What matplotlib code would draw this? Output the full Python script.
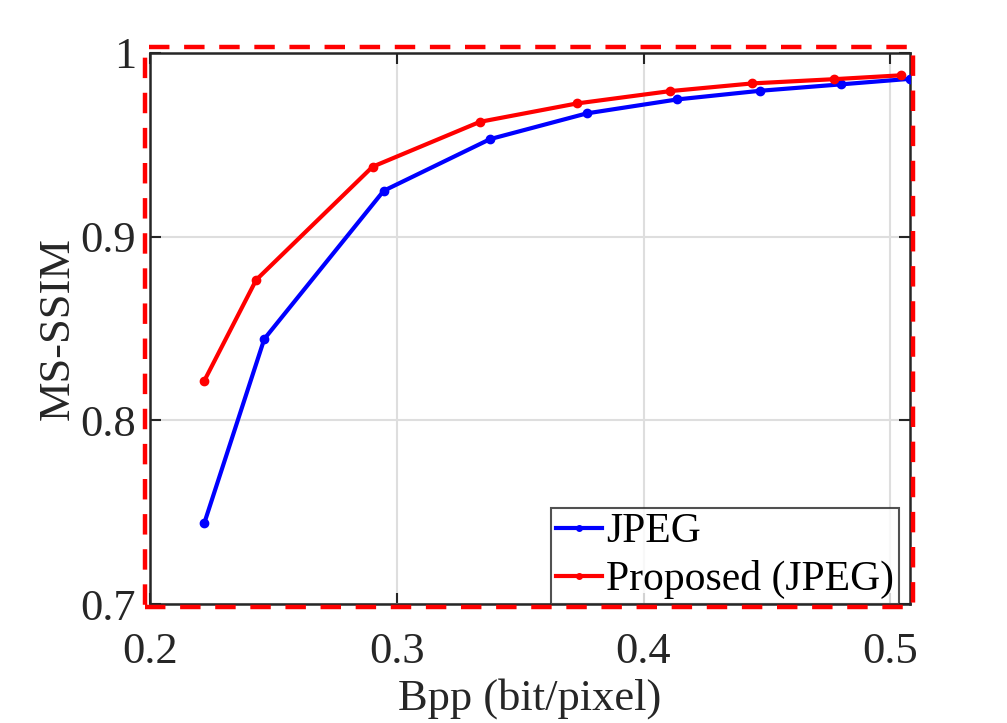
import numpy as np
import matplotlib.pyplot as plt
from matplotlib.patches import Rectangle

# values
bpp_jpeg = [0.222, 0.2463, 0.2947, 0.3378, 0.377, 0.4137, 0.4473, 0.4802, 0.508]
ssim_jpeg = [0.7442, 0.8443, 0.9249, 0.953, 0.967, 0.9746, 0.9793, 0.9828, 0.9858]
bpp_prop = [0.222, 0.243, 0.2902, 0.3337, 0.373, 0.4107, 0.4441, 0.4772, 0.5043]
ssim_prop = [0.8216, 0.8764, 0.938, 0.9624, 0.9724, 0.9791, 0.9833, 0.9856, 0.9877]

plt.rcParams['font.family'] = 'serif'
plt.rcParams['font.serif'] = ['Liberation Serif', 'Times New Roman', 'DejaVu Serif']

fig = plt.figure(figsize=(10.07, 7.23), dpi=100)
ax = fig.add_axes([0.149, 0.1642, 0.7547, 0.7629])

ax.plot(bpp_jpeg, ssim_jpeg, '-o', color='#0000ff', lw=3, ms=6, label='JPEG', zorder=3)
ax.plot(bpp_prop, ssim_prop, '-o', color='#ff0000', lw=3, ms=6, label='Proposed (JPEG)', zorder=3)

ax.set_xlim(0.2, max(bpp_jpeg))
ax.set_ylim(0.7, 1.0)
ax.set_xticks([0.2, 0.3, 0.4, 0.5])
ax.set_xticklabels(['0.2', '0.3', '0.4', '0.5'])
ax.set_yticks([0.7, 0.8, 0.9, 1.0])
ax.set_yticklabels(['0.7', '0.8', '0.9', '1'])
ax.grid(True, color='#dedede', lw=1.5)
ax.tick_params(direction='in', top=True, right=True, length=8, width=1.5,
               labelsize=32, colors='#262626')
ax.tick_params(axis='x', pad=20)
ax.tick_params(axis='y', pad=10)
for s in ax.spines.values():
    s.set_color('#262626')
    s.set_linewidth(1.8)

ax.set_xlabel('Bpp (bit/pixel)', fontsize=32, color='#262626', labelpad=4)
ax.set_ylabel('MS-SSIM', fontsize=32, color='#262626', labelpad=2)

leg = ax.legend(loc='lower right', fontsize=30, handlelength=1.1, handletextpad=0.1,
                borderpad=0.12, labelspacing=0.22, borderaxespad=0.0, fancybox=False,
                bbox_to_anchor=(0.9855, 0.0))
leg.get_frame().set_edgecolor('#262626')
leg.get_frame().set_linewidth(1.5)
for h in leg.legend_handles:
    h.set_markersize(4)

# red dashed highlight box around the plot area
fig.patches.append(Rectangle((0.144, 0.1609), 0.7626, 0.7745, transform=fig.transFigure,
                             fill=False, edgecolor='#ff0000', lw=3.2,
                             linestyle=(0, (4.6, 3.3)), zorder=10))

fig.savefig('out.png', dpi=100)
